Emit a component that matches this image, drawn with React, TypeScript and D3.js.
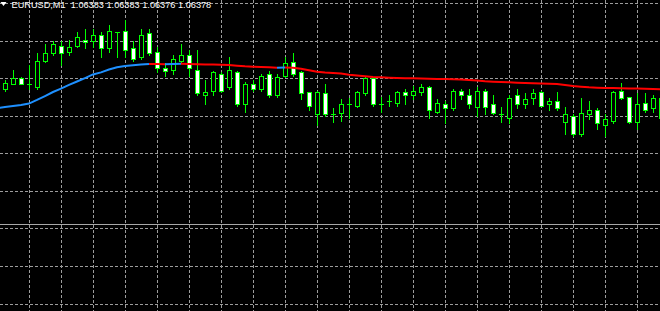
import React from 'react';
import * as d3 from 'd3';

const W = 660;
const H = 311;

const symbolLabel = 'EURUSD,M1';
const quote = ['1.06383', '1.06383', '1.06376', '1.06378'];

const opens = [
  1.06393, 1.06396, 1.064, 1.06396, 1.06394, 1.06412, 1.06417, 1.06422, 1.06418, 1.06422,
  1.06426, 1.06425, 1.06429, 1.0642, 1.06431, 1.06432, 1.0642, 1.06414, 1.0643, 1.06418,
  1.06407, 1.06406, 1.06412, 1.06416, 1.06406, 1.06389, 1.06392, 1.06403, 1.06394, 1.06404,
  1.06383, 1.06396, 1.06393, 1.06403, 1.06389, 1.06402, 1.06411, 1.06404, 1.06391, 1.06376,
  1.0639, 1.06376, 1.06377, 1.06383, 1.06382, 1.0639, 1.064, 1.06383, 1.06385, 1.06384,
  1.06391, 1.06389, 1.06391, 1.06394, 1.06378, 1.06383, 1.0638, 1.06392, 1.06389, 1.06381,
  1.06392, 1.06383, 1.06376, 1.06374, 1.06389, 1.06383, 1.06387, 1.06391, 1.06383, 1.06385,
  1.06371, 1.06375, 1.06363, 1.06376, 1.06379, 1.06369, 1.06372, 1.06392, 1.06388, 1.06371,
  1.06384, 1.0638, 1.06387,
];
const highs = [
  1.06399, 1.06406, 1.06401, 1.06409, 1.06417, 1.06423, 1.06425, 1.06425, 1.06426, 1.06431,
  1.06433, 1.06433, 1.06431, 1.06436, 1.06431, 1.06439, 1.06425, 1.06433, 1.06433, 1.06421,
  1.0641, 1.06416, 1.06423, 1.06419, 1.06419, 1.06399, 1.06405, 1.06404, 1.06414, 1.06405,
  1.06398, 1.06399, 1.06403, 1.06405, 1.06403, 1.06414, 1.06417, 1.06405, 1.06391, 1.06392,
  1.06396, 1.0638, 1.06386, 1.06387, 1.06392, 1.06401, 1.06401, 1.06388, 1.06389, 1.06392,
  1.06393, 1.06395, 1.06396, 1.06395, 1.06386, 1.06385, 1.06393, 1.06393, 1.06393, 1.06394,
  1.06393, 1.06389, 1.06381, 1.06389, 1.06393, 1.0639, 1.06393, 1.06392, 1.06387, 1.06391,
  1.06381, 1.06376, 1.06387, 1.06385, 1.0638, 1.06376, 1.06392, 1.06397, 1.06388, 1.0639,
  1.0639, 1.06389, 1.06387,
];
const lows = [
  1.06392, 1.06396, 1.06396, 1.06393, 1.06393, 1.06411, 1.06416, 1.06409, 1.06416, 1.06421,
  1.0642, 1.06421, 1.06414, 1.06418, 1.06414, 1.06414, 1.06412, 1.06413, 1.06416, 1.06404,
  1.06402, 1.06403, 1.0641, 1.06402, 1.06389, 1.06383, 1.06389, 1.06391, 1.06393, 1.06382,
  1.06378, 1.06392, 1.06392, 1.06388, 1.06388, 1.06401, 1.06402, 1.06386, 1.06379, 1.06369,
  1.06375, 1.06371, 1.06372, 1.06374, 1.06381, 1.06389, 1.06382, 1.06378, 1.06382, 1.06382,
  1.06383, 1.06386, 1.06389, 1.06374, 1.06377, 1.0637, 1.06379, 1.06386, 1.0638, 1.06375,
  1.06376, 1.06376, 1.06371, 1.0637, 1.0638, 1.0638, 1.06383, 1.06382, 1.06379, 1.06379,
  1.06363, 1.06362, 1.06362, 1.06373, 1.06366, 1.06362, 1.0637, 1.06386, 1.0637, 1.06366,
  1.06378, 1.06378, 1.06372,
];
const closes = [
  1.06397, 1.064, 1.06396, 1.06396, 1.06412, 1.06417, 1.06423, 1.06417, 1.06421, 1.06428,
  1.06424, 1.06429, 1.0642, 1.06432, 1.06431, 1.06419, 1.06413, 1.06429, 1.06417, 1.06407,
  1.06405, 1.06413, 1.06416, 1.06407, 1.0639, 1.06391, 1.06404, 1.06392, 1.06406, 1.06383,
  1.06396, 1.06393, 1.06402, 1.06389, 1.06401, 1.0641, 1.06403, 1.0639, 1.06382, 1.06391,
  1.06376, 1.06376, 1.06383, 1.06383, 1.06391, 1.064, 1.06383, 1.06383, 1.06385, 1.06391,
  1.06389, 1.06392, 1.06394, 1.06379, 1.06384, 1.0638, 1.06392, 1.06389, 1.06383, 1.06392,
  1.06381, 1.06377, 1.06376, 1.06387, 1.06383, 1.06386, 1.0639, 1.06382, 1.06385, 1.0638,
  1.06376, 1.06363, 1.06377, 1.06379, 1.0637, 1.06373, 1.06391, 1.06387, 1.06371, 1.06383,
  1.06379, 1.06387, 1.06374,
];

// moving average, first value belongs to the bar just before the first visible one
const maValues = [
  1.063803, 1.06381, 1.063817, 1.063823, 1.063833, 1.063857, 1.063883, 1.06391, 1.063933, 1.063957,
  1.06398, 1.064003, 1.064027, 1.064041, 1.06406, 1.064075, 1.064083, 1.064088, 1.064093, 1.064097,
  1.064096, 1.064095, 1.064097, 1.064098, 1.064096, 1.064095, 1.064094, 1.064093, 1.064092, 1.06409,
  1.064085, 1.064081, 1.064079, 1.064077, 1.064075, 1.064072, 1.064073, 1.064071, 1.064065, 1.064055,
  1.064045, 1.06404, 1.064037, 1.064033, 1.064025, 1.06402, 1.064015, 1.06401, 1.064008, 1.064005,
  1.064003, 1.064002, 1.064001, 1.064, 1.063999, 1.063997, 1.063996, 1.063995, 1.063993, 1.06399,
  1.063987, 1.063981, 1.063979, 1.063977, 1.063975, 1.063972, 1.06397, 1.063968, 1.063967, 1.063965,
  1.063963, 1.063957, 1.06395, 1.063945, 1.063941, 1.063939, 1.063937, 1.063936, 1.063935, 1.063934,
  1.063933, 1.063932, 1.06393, 1.063928,
];

const priceGrid = [1.0645, 1.06425, 1.064, 1.06375, 1.0635, 1.06325];
const subGrid = [0, 1, 2];
const barGridStep = 4;
const barGridFirst = 3;

const GREEN = '#00ff00';
const GRID = '#9c9c9c';
const MA_UP = '#1e90ff';
const MA_DOWN = '#ff0000';

export default function App() {
  const n = opens.length;
  const x = d3.scaleLinear().domain([0, 82]).range([5, 661]);
  const y = d3.scaleLinear().domain([1.06325, 1.0645]).range([191, 3.5]);
  const ySub = d3.scaleLinear().domain([0, 2]).range([304, 228]);

  const gridBars = d3.range(barGridFirst, n, barGridStep);

  // MA segments grouped by colour
  const maPts = maValues.map((v, i) => [x(i - 1), y(v)] as [number, number]);
  const groups: { color: string; pts: [number, number][] }[] = [];
  for (let i = 1; i < maPts.length; i++) {
    const color = maValues[i] > maValues[i - 1] ? MA_UP : MA_DOWN;
    const last = groups[groups.length - 1];
    if (last && last.color === color) last.pts.push(maPts[i]);
    else groups.push({ color, pts: [maPts[i - 1], maPts[i]] });
  }
  const line = d3.line<[number, number]>().x((d) => d[0]).y((d) => d[1]);

  return (
    <div>
      <style>{'body{margin:0;background:#000;}'}</style>
      <svg width={W} height={H} style={{ display: 'block', background: '#000' }}>
        <rect x={0} y={0} width={W} height={H} fill="#000" />
        {/* grid */}
        <g stroke={GRID} strokeWidth={1} strokeDasharray="3,2" shapeRendering="crispEdges">
          {gridBars.map((k) => (
            <line key={'v' + k} x1={Math.round(x(k)) + 0.5} x2={Math.round(x(k)) + 0.5} y1={0} y2={H} />
          ))}
          {priceGrid.map((p) => (
            <line key={'h' + p} x1={0} x2={W} y1={Math.floor(y(p)) + 0.5} y2={Math.floor(y(p)) + 0.5} />
          ))}
          {subGrid.map((v) => (
            <line key={'s' + v} x1={0} x2={W} y1={Math.floor(ySub(v)) + 0.5} y2={Math.floor(ySub(v)) + 0.5} />
          ))}
        </g>
        <line x1={0} x2={W} y1={224.5} y2={224.5} stroke="#a8a8a8" strokeWidth={1} shapeRendering="crispEdges" />
        {/* candles */}
        <g shapeRendering="crispEdges">
          {opens.map((o, i) => {
            const c = closes[i];
            const cx = Math.round(x(i));
            const yh = Math.round(y(highs[i]));
            const yl = Math.round(y(lows[i]));
            const top = Math.round(y(Math.max(o, c)));
            const bot = Math.round(y(Math.min(o, c)));
            const bear = c < o;
            return (
              <g key={i}>
                <line x1={cx + 0.5} x2={cx + 0.5} y1={yh} y2={yl + 1} stroke={GREEN} strokeWidth={1} />
                {bot - top >= 1 ? (
                  <rect
                    x={cx - 1.5}
                    y={top + 0.5}
                    width={4}
                    height={bot - top}
                    fill={bear ? '#ffffff' : '#000000'}
                    stroke={GREEN}
                    strokeWidth={1}
                  />
                ) : (
                  <line x1={cx - 2} x2={cx + 3} y1={top + 0.5} y2={top + 0.5} stroke={GREEN} strokeWidth={1} />
                )}
              </g>
            );
          })}
        </g>
        {/* moving average */}
        <g fill="none" strokeWidth={2}>
          {groups.map((g, i) => (
            <path key={i} d={line(g.pts) || ''} stroke={g.color} />
          ))}
        </g>
        {/* title */}
        <polygon points="0.5,2 6.5,2 3.5,6" fill="#ffffff" />
        <text
          x={11.5}
          y={7.5}
          fill="#ffffff"
          fontFamily="'Liberation Sans', Arial, sans-serif"
          fontSize={9.2}
          style={{ whiteSpace: 'pre' }}
        >
          {symbolLabel + '  ' + quote.join(' ')}
        </text>
      </svg>
    </div>
  );
}
